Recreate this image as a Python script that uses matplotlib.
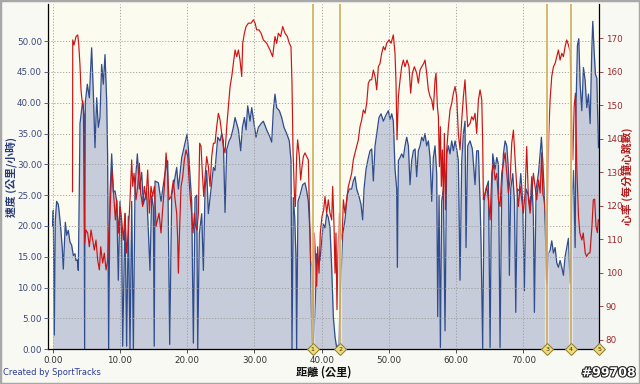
import matplotlib
matplotlib.use("Agg")
import matplotlib.pyplot as plt
import matplotlib.patheffects as pe
from matplotlib.patches import Rectangle

# distance (km) / speed (km/h)
dist_speed = [
    0.0, 0.09, 0.24, 0.39, 0.59, 0.84, 0.99, 1.18, 1.43, 1.58, 1.73, 1.88, 2.08, 2.32, 2.57, 2.82,
    3.07, 3.32, 3.46, 3.66, 3.81, 3.96, 4.06, 4.46, 4.65, 4.75, 4.85, 5.15, 5.45, 5.79, 6.04, 6.29,
    6.54, 6.79, 7.03, 7.28, 7.53, 7.78, 8.03, 8.17, 8.32, 8.52, 8.77, 9.02, 9.27, 9.52, 9.76, 10.01,
    10.26, 10.41, 10.76, 11.0, 11.25, 11.5, 11.75, 12.0, 12.24, 12.59, 12.89, 13.23, 13.48, 13.98,
    14.47, 14.72, 14.97, 15.1, 15.22, 15.72, 16.11, 16.71, 17.1, 17.4, 17.7, 18.1, 18.44, 18.69,
    19.19, 19.58, 19.98, 20.18, 20.43, 20.67, 20.92, 21.17, 21.42, 21.57, 21.81, 22.16, 22.41, 22.66,
    22.9, 23.15, 23.55, 23.9, 24.14, 24.54, 24.89, 25.14, 25.38, 25.63, 25.88, 26.23, 26.52, 26.87,
    27.12, 27.37, 27.62, 27.96, 28.21, 28.51, 28.76, 29.0, 29.35, 29.6, 29.9, 30.24, 30.59, 30.99,
    31.33, 31.82, 32.32, 32.57, 32.81, 33.06, 33.31, 33.71, 34.05, 34.4, 34.8, 35.19, 35.44, 35.59,
    35.79, 35.99, 36.18, 36.28, 36.48, 36.78, 37.18, 37.52, 37.77, 38.02, 38.27, 38.42, 38.56, 38.76,
    39.06, 39.26, 39.51, 39.75, 40.0, 40.25, 40.5, 40.75, 40.99, 41.24, 41.49, 41.74, 41.99, 42.23,
    42.53, 42.88, 43.13, 43.47, 43.82, 44.12, 44.46, 44.71, 44.96, 45.21, 45.6, 45.85, 46.1, 46.3,
    46.6, 46.95, 47.19, 47.44, 47.69, 47.94, 48.33, 48.53, 48.83, 49.18, 49.52, 49.92, 50.17, 50.42,
    50.66, 50.91, 51.16, 51.26, 51.41, 51.66, 51.9, 52.15, 52.4, 52.65, 52.9, 53.14, 53.39, 53.64,
    53.89, 54.13, 54.38, 54.63, 54.88, 55.13, 55.37, 55.62, 55.87, 56.12, 56.37, 56.61, 56.86, 57.11,
    57.26, 57.46, 57.66, 57.85, 58.1, 58.35, 58.6, 58.85, 59.09, 59.34, 59.59, 59.84, 60.08, 60.33,
    60.58, 60.83, 61.08, 61.32, 61.47, 61.72, 62.07, 62.41, 62.81, 63.06, 63.31, 63.56, 63.71, 63.95,
    64.15, 64.45, 64.8, 65.05, 65.2, 65.44, 65.79, 66.04, 66.29, 66.53, 66.78, 67.03, 67.28, 67.53,
    67.77, 67.92, 68.12, 68.42, 68.67, 68.87, 69.11, 69.41, 69.61, 69.9, 70.15, 70.4, 70.75, 71.0,
    71.25, 71.49, 71.64, 71.89, 72.24, 72.49, 72.68, 72.88, 73.08, 73.28, 73.48, 73.73, 73.97, 74.22,
    74.47, 74.72, 74.97, 75.21, 75.46, 75.71, 75.96, 76.2, 76.45, 76.7, 76.95, 77.2, 77.45, 77.7,
    77.84, 78.04, 78.24, 78.44, 78.69, 78.93, 79.18, 79.43, 79.68, 79.93, 80.17, 80.32, 80.52, 80.72,
    80.92, 81.17,
]
speed = [
    20, 22.5, 2.3, 21, 24, 23.5, 22, 19.8, 16.3, 13, 17, 20.6, 18.5, 19.3, 17.4, 16.9,
    15.2, 15.5, 14.4, 14.5, 12.8, 26, 36.6, 40.3, 38, 0, 40, 43, 40.8, 48.9, 41.9, 32.7,
    40.8, 36, 37.6, 46.2, 43, 47.8, 40.3, 31.1, 0, 25, 31.7, 25.5, 25.7, 24, 11.2, 24,
    18.7, 0.5, 22, 0.5, 21.6, 0, 24, 0, 26.3, 31.7, 26, 28.7, 23.5, 25.6,
    12.8, 25, 23, 0.5, 27.3, 27, 24, 28.6, 30.6, 0.8, 25, 27.3, 29.5, 26,
    31.1, 33, 34.9, 32.5, 28, 24, 1, 24.6, 25, 0, 18.8, 22, 12.8, 26,
    29, 22, 26, 29.5, 29, 34.4, 33.8, 35, 33.8, 22.2, 32.4, 33.8, 34.4, 36,
    37.6, 36.6, 35.6, 32.2, 36, 37.6, 35.6, 39.5, 37, 39.2, 37, 34.4, 36, 36.6,
    37, 35.6, 34.4, 33.6, 38.7, 41.4, 39.2, 38.7, 37.6, 36, 35, 33.8, 30.6, 0,
    24.6, 21.4, 15, 0, 24, 25, 26.7, 27, 25.7, 24, 18.7, 10, 1, 0.5,
    7.9, 15.5, 14.4, 14.4, 17.6, 20.3, 19.7, 22, 21.4, 19.7, 13.3, 5.2, 2, 0.3,
    0.8, 12, 18.7, 21, 25.1, 26, 26, 27.3, 28, 26, 24.6, 23.5, 21, 26,
    29.2, 31.1, 32.2, 32.5, 27.3, 33, 36, 37.6, 38.2, 37, 37.9, 38.7, 37.3, 38.2,
    37, 29.2, 26, 13.3, 30.6, 31.1, 31.7, 31.1, 33, 34.4, 33, 26.7, 30.6, 32.2,
    32.5, 28, 32.2, 33, 34.4, 33.8, 35, 33, 33.8, 31.1, 24, 31.1, 33, 28.5,
    5.3, 25, 0.3, 24, 26, 3, 31.7, 33, 31.7, 33.8, 32.2, 33.8, 32.5, 30.6,
    11.2, 30.6, 35, 37, 16.5, 33, 33.8, 32.5, 26.7, 32.2, 32.2, 24, 17, 0,
    24, 26, 27.3, 0.3, 18.7, 31.7, 29.2, 31.1, 30, 0.3, 26, 31.7, 33.8, 33,
    29.2, 12, 26, 28.5, 24, 6, 26, 25.7, 28.5, 24, 9.5, 26, 25, 23,
    28, 21.4, 6, 26, 28.5, 31.7, 34.4, 30.6, 26, 18.7, 10.7, 15.6, 16, 17.6,
    15.6, 16.5, 14, 13.3, 14.4, 13.3, 12, 15, 16.5, 18, 10.7, 24, 29, 16.5,
    40, 49.3, 50.4, 43, 38.7, 45.7, 43.7, 39.2, 41.4, 36.6, 48.4, 53.2, 48.4, 44.6,
    44, 32.7,
]

# distance (km) / heart rate (bpm)
dist_hr = [
    2.95, 2.98, 3.17, 3.47, 3.72, 3.86, 4.06, 4.21, 4.36, 4.56, 4.66, 4.76, 4.95, 5.2, 5.45, 5.7,
    5.95, 6.19, 6.44, 6.69, 6.94, 7.14, 7.43, 7.68, 7.93, 8.18, 8.33, 8.52, 8.77, 8.92, 9.12, 9.32,
    9.52, 9.76, 10.01, 10.26, 10.51, 10.76, 11.0, 11.25, 11.5, 11.75, 11.9, 12.09, 12.39, 12.64,
    12.89, 13.09, 13.38, 13.63, 13.88, 14.13, 14.37, 14.62, 14.87, 15.12, 15.37, 15.81, 16.11, 16.31,
    16.61, 16.86, 17.1, 17.3, 17.6, 17.95, 18.2, 18.44, 18.59, 18.69, 18.89, 19.09, 19.34, 19.58,
    19.83, 20.08, 20.28, 20.48, 20.67, 20.87, 21.07, 21.27, 21.47, 21.67, 21.86, 22.06, 22.26, 22.46,
    22.66, 22.9, 23.15, 23.4, 23.65, 23.9, 24.14, 24.39, 24.64, 24.89, 25.14, 25.38, 25.63, 25.88,
    26.13, 26.38, 26.63, 26.87, 27.12, 27.37, 27.62, 27.86, 28.11, 28.26, 28.51, 28.76, 29.1, 29.5,
    29.85, 30.1, 30.34, 30.69, 30.99, 31.33, 31.82, 32.32, 32.71, 33.06, 33.31, 33.56, 33.9, 34.2,
    34.55, 34.9, 35.19, 35.44, 35.59, 35.74, 35.94, 36.09, 36.28, 36.43, 36.68, 36.88, 37.08, 37.28,
    37.52, 37.77, 38.02, 38.17, 38.37, 38.56, 38.76, 38.91, 39.06, 39.26, 39.41, 39.61, 39.8, 40.05,
    40.3, 40.5, 40.75, 40.99, 41.24, 41.49, 41.64, 41.84, 41.99, 42.13, 42.28, 42.43, 42.63, 42.83,
    43.03, 43.23, 43.47, 43.72, 43.97, 44.22, 44.46, 44.71, 44.96, 45.21, 45.46, 45.7, 45.95, 46.2,
    46.45, 46.7, 46.94, 47.19, 47.44, 47.69, 47.94, 48.19, 48.43, 48.68, 48.93, 49.18, 49.42, 49.67,
    50.02, 50.32, 50.66, 50.91, 51.06, 51.21, 51.41, 51.66, 51.9, 52.15, 52.4, 52.7, 52.99, 53.24,
    53.49, 53.79, 54.13, 54.38, 54.63, 54.88, 55.18, 55.37, 55.62, 55.87, 56.12, 56.37, 56.61, 56.86,
    57.01, 57.21, 57.36, 57.51, 57.66, 57.8, 57.95, 58.1, 58.25, 58.4, 58.6, 58.85, 59.09, 59.34,
    59.59, 59.84, 60.08, 60.33, 60.58, 60.83, 61.08, 61.32, 61.47, 61.72, 62.07, 62.32, 62.57, 62.81,
    63.06, 63.31, 63.56, 63.81, 63.95, 64.05, 64.3, 64.55, 64.8, 65.05, 65.3, 65.54, 65.79, 66.04,
    66.29, 66.53, 66.78, 67.03, 67.28, 67.53, 67.77, 68.02, 68.27, 68.52, 68.77, 69.01, 69.26, 69.51,
    69.76, 70.0, 70.25, 70.5, 70.75, 71.0, 71.25, 71.49, 71.74, 71.99, 72.24, 72.49, 72.73, 72.88,
    73.08, 73.28, 73.43, 73.58, 73.78, 73.97, 74.22, 74.47, 74.72, 74.97, 75.21, 75.46, 75.71, 75.96,
    76.2, 76.45, 76.7, 76.95, 77.2, 77.35, 77.55, 77.74, 77.94, 78.2, 78.4, 78.7, 78.9, 79.2,
    79.4, 79.7, 79.9, 80.2, 80.4, 80.6, 80.8, 81.0, 81.15,
]
heart_rate = [
    124.2, 169.5, 168, 170.5, 171, 168.6, 162, 154.6, 151.6, 149.6, 131.7, 108.9, 112.8, 111.9, 107.8, 112.8,
    109.8, 106.8, 109.8, 103.8, 100.9, 107.8, 102.9, 105.9, 100.9, 103.8, 111.9, 117.8, 130.7, 127.7, 121.8, 115.8,
    121.8, 111.9, 119.8, 115.8, 109.8, 117.8, 105.9, 111.9, 121.8, 133.7, 125.8, 129.7, 121.8, 125.8,
    132.7, 123.8, 119.8, 125.8, 121.8, 130.7, 117.8, 125.8, 122.8, 125.8, 113.9, 117.8, 111.9, 117.8,
    125.8, 135.8, 129.7, 121.8, 122.8, 127.7, 121.8, 117.8, 109.8, 99.9, 113.9, 125.8, 128.7, 133.7,
    136.7, 134.7, 127.7, 121.8, 117.8, 111.9, 117.8, 113.9, 112.8, 117.8, 138.7, 137.7, 129.7, 122.8,
    128.7, 134.7, 131.7, 125.8, 134.7, 138.7, 138.7, 143.6, 147.6, 145.6, 141.6, 137.7, 135.8, 143.6,
    149.6, 155.6, 158.6, 162.5, 166.5, 164.5, 166.5, 163.5, 158.6, 168.5, 171.5, 173.5, 174.5, 174.5,
    175.5, 174.5, 172.5, 172.5, 171.5, 169.5, 168.5, 166.5, 164.5, 170.5, 168.5, 171.5, 170.5, 173.5,
    171.5, 170.5, 168.5, 167.5, 156.6, 136.7, 123.8, 119.8, 134.7, 139.7, 134.7, 127.7, 131.7, 134.7,
    135.8, 134.7, 133.7, 119.8, 103.9, 101.9, 86, 111.9, 105.9, 96, 107.8, 99.9, 111.9, 116.8,
    118.8, 122.8, 117.8, 121.8, 117.8, 115.8, 125.8, 113.9, 99.9, 111.9, 89, 105.9, 117.8, 111.9,
    109.8, 121.8, 117.8, 121.8, 125.8, 127.7, 129.7, 133.7, 135.8, 137.7, 139.7, 143.6, 145.6, 148.6,
    147.6, 150.6, 156.6, 157.6, 157.6, 160.5, 158.6, 154.6, 161.5, 162.5, 165.5, 167.5, 166.5, 168.5,
    169.5, 168.5, 171, 165.5, 156.6, 139.7, 152.6, 157.6, 161.5, 163.5, 161.5, 163.5, 161.5, 153.6,
    159.6, 161.5, 159.6, 156.6, 160.5, 161.5, 162.5, 163.5, 159.6, 154.6, 152.6, 151.6, 148.6, 157.6,
    159.6, 149.6, 146.6, 131.7, 143.6, 125.8, 136.7, 121.8, 141.6, 118.8, 136.7, 143.6, 148.6, 150.6,
    153.6, 155.6, 152.6, 141.6, 136.7, 145.6, 152.6, 157.6, 151.6, 143.6, 144.6, 146.6, 145.6, 147.6,
    141.6, 151.6, 154.6, 151.6, 138.7, 121.8, 123.8, 125.8, 121.8, 115.8, 129.7, 132.7, 127.7, 129.7,
    121.8, 119.8, 129.7, 132.7, 135.8, 129.7, 123.8, 127.7, 138.7, 142.6, 133.7, 125.8, 119.8, 125.8,
    121.8, 117.8, 123.8, 137.7, 121.8, 117.8, 123.8, 129.7, 125.8, 121.8, 127.7, 123.8, 135.8, 123.8,
    121.8, 117.8, 98, 119.8, 141.6, 151.6, 158.6, 161.5, 162.5, 164.5, 166.5, 163.5, 165.5, 164.5,
    167.5, 169.5, 168, 166, 146.6, 133.7, 149.6, 153.6, 131.7, 116.8, 111.9, 109.8, 111.9, 105.9,
    104.9, 105.9, 105.9, 113.9, 121.8, 122, 113.9, 112, 115.8,
]

# lap markers (km)
lap_km = [38.67, 42.78, 73.57, 77.05, 81.3]
lap_names = ["1", "2", "3", "4", "5"]

speed_ticks = [0, 5, 10, 15, 20, 25, 30, 35, 40, 45, 50]
hr_ticks = [80, 90, 100, 110, 120, 130, 140, 150, 160, 170]
dist_ticks = [0, 10, 20, 30, 40, 50, 60, 70]

CJK = ["Noto Sans CJK TC", "DejaVu Sans"]
BLUE = "#2f4c8c"
RED = "#cc1414"
GOLD = "#c9a648"

fig = plt.figure(figsize=(6.4, 3.84), dpi=100, facecolor="#f9f9f4")
ax = fig.add_axes([0.0755, 0.0904, 0.861, 0.899])
ax.set_facecolor("#fcfbf0")

ax.fill_between(dist_speed, speed, 0, color="#c6ccda", lw=0)
ax.plot(dist_speed, speed, color=BLUE, lw=0.9)
ax.set_xlim(-0.65, 81.3)
ax.set_ylim(0, 56)
ax.set_xticks(dist_ticks)
ax.set_xticklabels([f"{v:.2f}" for v in dist_ticks])
ax.set_yticks(speed_ticks)
ax.set_yticklabels([f"{v:.2f}" for v in speed_ticks])
ax.tick_params(axis="x", labelsize=6.3, length=3, width=0.6, pad=1.5, colors="#333333")
ax.tick_params(axis="y", labelsize=6.3, length=3, width=0.6, pad=1.5, colors="#3b4a7d")
ax.grid(True, color="#9c9c9c", lw=0.6, linestyle=(0, (1.5, 2)))
ax.set_axisbelow(False)
for s in ["top", "right"]:
    ax.spines[s].set_visible(False)
ax.spines["left"].set_linewidth(0.9)
ax.spines["bottom"].set_linewidth(0.9)
ax.set_xlabel("距離 (公里)", family=CJK, fontsize=8, fontweight="bold", color="#111111", labelpad=1)
ax.set_ylabel("速度 (公里/小時)", family=CJK, fontsize=7.8, fontweight="bold", color="#2a3c78",
              va="center")
ax.yaxis.set_label_coords(-0.067, 0.5)

ax2 = ax.twinx()
ax2.plot(dist_hr, heart_rate, color=RED, lw=0.85)
ax2.set_ylim(77.2, 180.2)
ax2.set_yticks(hr_ticks)
ax2.tick_params(axis="y", labelsize=6.3, length=3, width=0.6, pad=1.5, colors="#9a2a2a")
for s in ["top", "left", "bottom"]:
    ax2.spines[s].set_visible(False)
ax2.spines["right"].set_linewidth(0.9)
ax2.set_ylabel("心率 (每分鐘心跳數)", family=CJK, fontsize=7.8, fontweight="bold", color="#b51c1c",
               va="center")
ax2.yaxis.set_label_coords(1.05, 0.5)

# lap lines and diamond markers
for km, name in zip(lap_km, lap_names):
    if km < 81:
        ax2.axvline(km, color="white", lw=3, alpha=0.5)
        ax2.axvline(km, color=GOLD, lw=1.1)
    ax2.plot([km], [77.2], marker="D", ms=6.5, mfc="#eedc7a", mec="#8c7a30", mew=0.7,
             clip_on=False, zorder=5)
    ax2.text(km, 77.2, name, fontsize=4.5, ha="center", va="center", color="#3a3010",
             clip_on=False, zorder=6)

fig.text(0.005, 0.018, "Created by SportTracks", fontsize=6, color="#2a3c9a", ha="left", va="bottom")
fig.text(0.993, 0.012, "#99708", fontsize=9, fontweight="bold", color="white", ha="right", va="bottom",
         path_effects=[pe.withStroke(linewidth=1.6, foreground="#222222")])

fig.patches.append(Rectangle((0, 0), 1, 1, transform=fig.transFigure, fill=False,
                             edgecolor="#a8a8a8", lw=2.5))

fig.savefig("out.png", dpi=100, facecolor=fig.get_facecolor())
